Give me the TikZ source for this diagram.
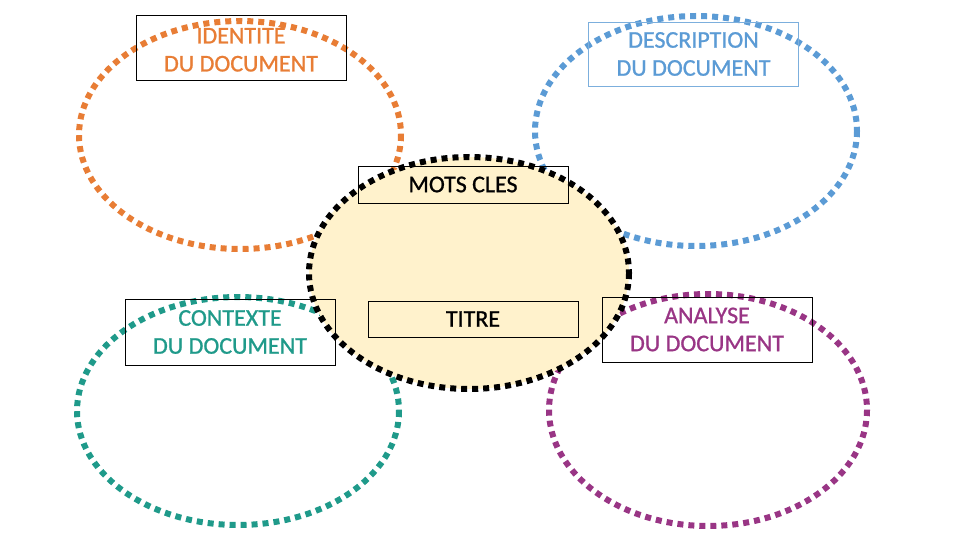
\documentclass[tikz,border=0pt]{standalone}
\usepackage{fontspec}
\setmainfont{Carlito}
\newfontfamily\lblfont[FakeBold=0.9]{Carlito}
\definecolor{corange}{HTML}{E87D35}
\definecolor{cblue}{HTML}{5B9BD5}
\definecolor{cteal}{HTML}{1F9A8A}
\definecolor{cpurple}{HTML}{993585}
\definecolor{cfill}{HTML}{FFF2CC}
\begin{document}
\begin{tikzpicture}[x=1pt,y=-1pt,
  dotring/.style={line width=6pt,dash pattern=on 6pt off 5pt},
  lbl/.style={draw=black,line width=0.8pt,minimum width=210pt,align=center,inner sep=0pt,
    font=\lblfont\fontsize{24}{28}\selectfont}]
\useasboundingbox (0,0) rectangle (960,540);
\fill[white] (0,0) rectangle (960,540);
\draw[dotring,corange] (240,135) ellipse [x radius=161, y radius=114];
\draw[dotring,cblue] (696,131) ellipse [x radius=161, y radius=115];
\draw[dotring,cteal] (238,411) ellipse [x radius=161, y radius=114];
\draw[dotring,cpurple] (708,410) ellipse [x radius=159, y radius=116];
\draw[dotring,black,fill=cfill] (469,273) ellipse [x radius=160, y radius=116];
\node[lbl,minimum height=65pt,text=corange] (ident) at (241,47.5) {IDENTITÉ\\DU DOCUMENT};
\node[lbl,draw=cblue!80,minimum height=64pt,text=cblue] (descr) at (693.5,54) {DESCRIPTION\\DU DOCUMENT};
\node[lbl,minimum height=37pt,text=black] (mots) at (463,184.5) {MOTS CLES};
\node[lbl,minimum height=66pt,text=cteal] (ctx) at (230,332) {CONTEXTE\\DU DOCUMENT};
\node[lbl,minimum height=36pt,text=black] (titre) at (473,319) {TITRE};
\node[lbl,minimum height=65pt,text=cpurple] (analyse) at (707,329.5) {ANALYSE\\DU DOCUMENT};
\end{tikzpicture}
\end{document}
